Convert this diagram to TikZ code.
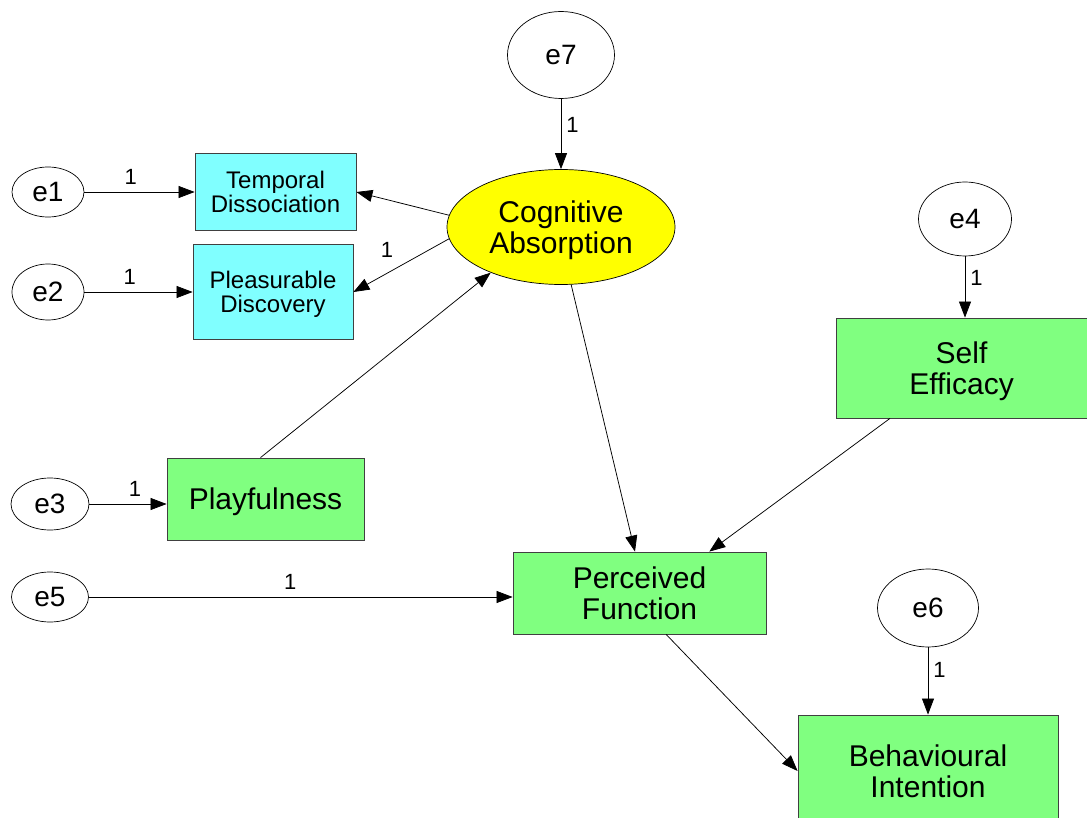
\documentclass[tikz,border=0pt]{standalone}
\usepackage{fontspec}
\setmainfont{Liberation Sans}
\usetikzlibrary{shapes.geometric,arrows.meta,calc}
\definecolor{boxgreen}{HTML}{80FF80}
\definecolor{boxcyan}{HTML}{80FFFF}
\definecolor{latyellow}{HTML}{FFFF00}
\begin{document}
\begin{tikzpicture}[x=1pt,y=-1pt,
  err/.style={draw=black, line width=0.7pt, ellipse, fill=white, inner sep=0pt,
    text depth=0pt, font=\fontsize{28}{30}\selectfont},
  obs/.style={draw=black!75, line width=0.8pt, rectangle, inner sep=0pt, align=center,
    text depth=0pt, fill=boxgreen, font=\fontsize{30}{31.5}\selectfont},
  ind/.style={obs, fill=boxcyan, font=\fontsize{24}{24}\selectfont},
  lat/.style={draw=black, line width=0.7pt, ellipse, fill=latyellow, inner sep=0pt,
    align=center, text depth=0pt, font=\fontsize{30}{30.5}\selectfont},
  path/.style={draw=black, line width=0.75pt, -{Triangle[length=16pt,width=12pt]}},
  wt/.style={font=\fontsize{22}{22}\selectfont, inner sep=1pt}
]
\useasboundingbox (0,0) rectangle (1087,818);

% latent variable and its disturbance
\node[err, minimum width=107pt, minimum height=87pt] (e7) at (561,55) {e7};
\node[lat, minimum width=228pt, minimum height=115pt] (ca) at (561,227) {Cognitive\\Absorption};

% indicators of cognitive absorption
\node[err, minimum width=72pt, minimum height=50pt] (e1) at (48,192) {e1};
\node[ind, minimum width=161pt, minimum height=77pt] (td) at (275.5,192) {Temporal\\Dissociation};
\node[err, minimum width=72pt, minimum height=56pt] (e2) at (48,292) {e2};
\node[ind, minimum width=160pt, minimum height=95pt] (pd) at (273,292) {Pleasurable\\Discovery};

% observed variables
\node[err, minimum width=78pt, minimum height=52pt] (e3) at (50,504) {e3};
\node[obs, minimum width=197pt, minimum height=82pt] (pl) at (265.5,499) {Playfulness};
\node[err, minimum width=77pt, minimum height=50pt] (e5) at (50,597) {e5};
\node[obs, minimum width=253pt, minimum height=82pt] (pf) at (639.5,593) {Perceived\\Function};
\node[err, minimum width=93pt, minimum height=74pt] (e4) at (965,219) {e4};
\node[obs, minimum width=251pt, minimum height=100pt] (se) at (961.5,368) {Self\\Efficacy};
\node[err, minimum width=101pt, minimum height=78pt] (e6) at (928,608) {e6};
\node[obs, minimum width=260pt, minimum height=112pt] (bi) at (928,771) {Behavioural\\Intention};

% error terms
\draw[path] (e7) -- node[wt, pos=0.37, right=4pt] (w7) {1} (ca);
\draw[path] (e1) -- node[wt, pos=0.42, above=6pt] (w1) {1} (td);
\draw[path] (e2) -- node[wt, pos=0.42, above=6pt] (w2) {1} (pd);
\draw[path] (e3) -- node[wt, pos=0.59, above=6pt] (w3) {1} (e3 -| pl.west);
\draw[path] (e5) -- node[wt, pos=0.475, above=6pt] (w5) {1} (e5 -| pf.west);
\draw[path] (e4) -- node[wt, pos=0.35, right=4pt] (w4) {1} (e4 |- se.north);
\draw[path] (e6) -- node[wt, pos=0.34, right=4pt] (w6) {1} (e6 |- bi.north);

% structural paths
\draw[path] (ca.174) -- (td.east);
\draw[path] (ca.186) -- node[wt, pos=0.547, xshift=-9.7pt, yshift=17.9pt] (w8) {1} (pd.east);
\draw[path] ([xshift=-5pt]pl.north) -- (ca.213);
\draw[path] (ca.280) -- ([xshift=-4.5pt]pf.north);
\draw[path] ($(se.south west)!0.216!(se.south east)$) -- ($(pf.north west)!0.775!(pf.north east)$);
\draw[path] ($(pf.south west)!0.605!(pf.south east)$) -- (bi.west);
\end{tikzpicture}
\end{document}
